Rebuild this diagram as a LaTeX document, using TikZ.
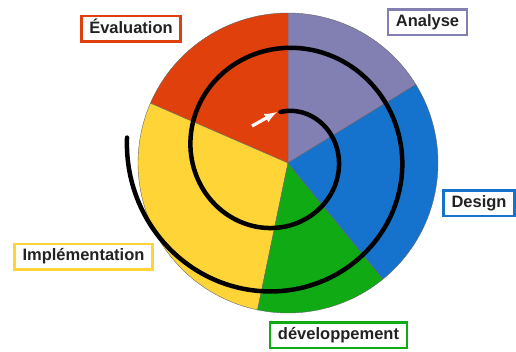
\documentclass[tikz,border=0pt]{standalone}
\usepackage{fontspec}
\setmainfont{Liberation Sans}
\usepackage{xcolor}
\usepackage{tikz}
\usetikzlibrary{arrows,positioning}

\definecolor{evalred}{RGB}{224,64,12}
\definecolor{analysegray}{RGB}{130,128,178}
\definecolor{designblue}{RGB}{22,115,205}
\definecolor{devgreen}{RGB}{16,170,20}
\definecolor{implyellow}{RGB}{255,212,55}
\definecolor{textgray}{RGB}{34,34,34}

\begin{document}
\begin{tikzpicture}
		[x=1pt,y=1pt,
		every node/.style={draw,fill=white,line width=2.5pt,inner xsep=8pt,inner ysep=5pt,
			text=textgray,text height=12pt,text depth=3.5pt,
			font=\bfseries\fontsize{16.5}{18}\selectfont},
		sector/.style={draw=black!60,line width=0.4pt}]
		\useasboundingbox (0,0) rectangle (516,351);
		\coordinate (c) at (288,188);
		% the wheel
		\foreach \startAngle/\endAngle/\sectorColor in
			{31.5/90/analysegray,90/156.5/evalred,156.5/258.3/implyellow,
			 258.3/309.3/devgreen,-50.7/31.5/designblue}
		{
			\filldraw[sector,fill=\sectorColor] (c) -- ++(\startAngle:150pt)
				arc[start angle=\startAngle,end angle=\endAngle,radius=150pt] -- cycle;
		}
		% the spiral
		\draw[line width=4.5pt,line cap=round]
			plot[domain=0:636,samples=240,smooth]
			({280.5+(41.75+0.177*\x)*cos(90-\x)},{197.25+(41.75+0.177*\x)*sin(90-\x)});
		\draw[-latex,white,line width=3.2pt] (252,225) -- (277,239);
		% the labels
		\node[draw=evalred] (eval) at (131,322) {Évaluation};
		\node[draw=analysegray] (analyse) at (427.5,328.5) {Analyse};
		\node[draw=designblue] (design) at (479,148) {Design};
		\node[draw=implyellow] (impl) at (83.5,94.5) {Implémentation};
		\node[draw=devgreen] (dev) at (338.5,16) {développement};
		\end{tikzpicture}
\end{document}
